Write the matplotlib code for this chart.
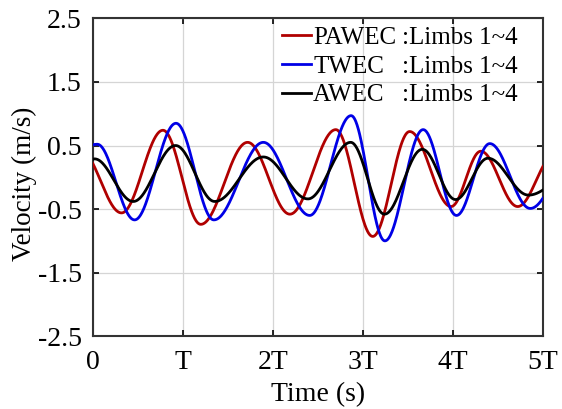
import numpy as np
import matplotlib
matplotlib.use("Agg")
import matplotlib.pyplot as plt
from matplotlib.lines import Line2D

plt.rcParams['font.family'] = ['Liberation Serif', 'DejaVu Serif']

# Key points (time in units of T, velocity in m/s): endpoints and local extrema
pawec_t = [0, 0.32, 0.78, 1.20, 1.72, 2.19, 2.70, 3.11, 3.52, 3.98, 4.31, 4.72, 5.0]
pawec_v = [0.22, -0.56, 0.74, -0.74, 0.55, -0.58, 0.75, -0.93, 0.72, -0.46, 0.41, -0.46, 0.17]

twec_t = [0, 0.05, 0.465, 0.925, 1.345, 1.895, 2.41, 2.87, 3.245, 3.67, 4.04, 4.41, 4.86, 5.0]
twec_v = [0.51, 0.52, -0.67, 0.85, -0.67, 0.55, -0.60, 0.97, -1.0, 0.75, -0.60, 0.53, -0.49, -0.33]

awec_t = [0, 0.02, 0.45, 0.92, 1.355, 1.895, 2.39, 2.865, 3.24, 3.66, 4.03, 4.39, 4.84, 5.0]
awec_v = [0.28, 0.29, -0.38, 0.50, -0.38, 0.32, -0.34, 0.55, -0.58, 0.44, -0.35, 0.30, -0.28, -0.20]

series_names = ['PAWEC', 'TWEC', 'AWEC']
series_suffix = ':Limbs 1~4'
xtick_vals = [0, 1, 2, 3, 4, 5]
xtick_labels = ['0', 'T', '2T', '3T', '4T', '5T']
ytick_vals = [-2.5, -1.5, -0.5, 0.5, 1.5, 2.5]


def smooth(ts, vs, n=80):
    """Sinusoid-like curve through extrema (zero slope at interior points)."""
    ts = np.asarray(ts, float)
    vs = np.asarray(vs, float)
    N = len(ts)
    out_t, out_v = [], []
    for i in range(N - 1):
        t0, t1, v0, v1 = ts[i], ts[i + 1], vs[i], vs[i + 1]
        tt = np.linspace(t0, t1, n)
        if i == 0:
            H = ts[2] - ts[1]
            s = (t1 - tt) / H
            w = (1 - np.cos(np.pi * s)) / 2
            w0 = (1 - np.cos(np.pi * (t1 - t0) / H)) / 2
            vv = v1 + (v0 - v1) * w / w0
        elif i == N - 2:
            H = ts[i] - ts[i - 1]
            s = (tt - t0) / H
            w = (1 - np.cos(np.pi * s)) / 2
            w1 = (1 - np.cos(np.pi * (t1 - t0) / H)) / 2
            vv = v0 + (v1 - v0) * w / w1
        else:
            s = (tt - t0) / (t1 - t0)
            vv = v0 + (v1 - v0) * (1 - np.cos(np.pi * s)) / 2
        out_t.append(tt if i == 0 else tt[1:])
        out_v.append(vv if i == 0 else vv[1:])
    return np.concatenate(out_t), np.concatenate(out_v)


fig = plt.figure(figsize=(5.62, 4.09), dpi=100)
ax = fig.add_axes([0.165, 0.178, 0.801, 0.777])

colors = ['#B00000', '#0000E6', '#000000']
for (t, v), c in zip([(pawec_t, pawec_v), (twec_t, twec_v), (awec_t, awec_v)], colors):
    x, y = smooth(t, v)
    ax.plot(x, y, color=c, lw=2.0, zorder=3)

ax.set_xlim(0, 5)
ax.set_ylim(-2.5, 2.5)
ax.set_xticks(xtick_vals)
ax.set_xticklabels(xtick_labels)
ax.set_yticks(ytick_vals)
ax.set_yticklabels([f'{v:.1f}' for v in ytick_vals])
ax.tick_params(direction='in', top=True, right=True, length=4, width=1.2,
               labelsize=20)
ax.tick_params(axis='x', pad=10)
ax.tick_params(axis='y', pad=8)
ax.grid(True, color='#D5D5D5', lw=0.9)
for sp in ax.spines.values():
    sp.set_linewidth(1.5)
    sp.set_color('#333333')

ax.set_xlabel('Time (s)', fontsize=20, labelpad=5)
ax.set_ylabel('Velocity (m/s)', fontsize=19.5, labelpad=0)
ax.yaxis.set_label_coords(-0.124, 0.48)

handles = [Line2D([], [], color=c, lw=2.0) for c in colors]
leg1 = ax.legend(handles, series_names, loc='upper left', bbox_to_anchor=(0.42, 0.975),
                 frameon=False, fontsize=18, handlelength=1.15, handletextpad=0.1,
                 labelspacing=0.25, borderpad=0, borderaxespad=0)
ax.add_artist(leg1)
blank = [Line2D([], [], color='none') for _ in colors]
leg2 = ax.legend(blank, [series_suffix] * 3, loc='upper left', bbox_to_anchor=(0.686, 0.975),
                 frameon=False, fontsize=18, handlelength=0, handletextpad=0,
                 labelspacing=0.25, borderpad=0, borderaxespad=0)

fig.savefig('out.png', dpi=100)
